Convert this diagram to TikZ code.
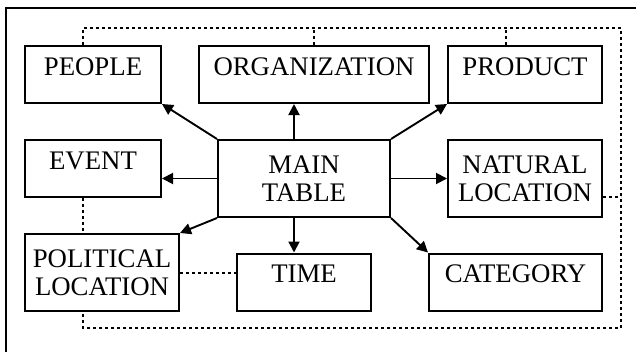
\documentclass[tikz,border=0pt]{standalone}
\usepackage{fontspec}
\setmainfont{Liberation Serif}
\usetikzlibrary{arrows.meta,calc}
\newcommand{\boxfont}{\fontsize{26.8pt}{28pt}\selectfont}
\begin{document}
\begin{tikzpicture}[x=1pt,y=-1pt,
  box/.style={draw, line width=2pt, inner sep=0pt, font=\boxfont},
  onebox/.style={box, text height=29pt, text depth=28pt},
  twobox/.style={box, align=center, minimum height=77pt},
  link/.style={line width=1.9pt, -{Triangle[length=11pt,width=11pt]}},
  dotline/.style={line width=2pt, dash pattern=on 2.6pt off 3.4pt},
]
\useasboundingbox (0,0) rectangle (636,351);
% outer frame
\draw[line width=2pt] (6,352) -- (6,8) -- (637,8);

% tables
\node[onebox, minimum width=136pt] (people) at (93,74.5) {PEOPLE};
\node[onebox, minimum width=230pt] (org) at (314,74.5) {ORGANIZATION};
\node[onebox, minimum width=154pt] (product) at (525,74.5) {PRODUCT};
\node[onebox, minimum width=136pt] (event) at (93,168.5) {EVENT};
\node[twobox, minimum width=172pt] (main) at (304,178.5) {MAIN\\TABLE};
\node[twobox, minimum width=154pt] (natural) at (525,178.5) {NATURAL\\LOCATION};
\node[twobox, minimum width=154pt] (political) at (102,272.5) {POLITICAL\\LOCATION};
\node[onebox, minimum width=134pt] (time) at (304,282) {TIME};
\node[onebox, minimum width=173pt] (category) at (515.5,282) {CATEGORY};

% links from the main table
\draw[link] (main.north west) -- (people.south east);
\draw[link] ([xshift=-10pt]main.north) -- ([xshift=-10pt]main.north |- org.south);
\draw[link] (main.north east) -- (product.south west);
\draw[link] (main.west) -- (main.west -| event.east);
\draw[link] (main.east) -- (main.east -| natural.west);
\draw[link] (main.south west) -- (political.north east);
\draw[link] ([xshift=-10pt]main.south) -- ([xshift=-10pt]main.south |- time.north);
\draw[link] (main.south east) -- (category.north west);

% dotted relations
\coordinate (nw) at (83,28);
\coordinate (se) at (621,328);
\draw[dotline] ([xshift=-10pt]people.north) -- ([xshift=-10pt]people.north |- nw)
  -| (se) -| ([xshift=-19pt]political.south);
\draw[dotline] (org.north) -- (org.north |- nw);
\draw[dotline] ([xshift=-19pt]product.north) -- ([xshift=-19pt]product.north |- nw);
\draw[dotline] ([yshift=-18pt]natural.east) -- ([yshift=-18pt]natural.east -| se);
\draw[dotline] ([xshift=-10pt]event.south) -- ([xshift=-19pt]political.north);
\draw[dotline] (political.east) -- (political.east -| time.west);
\end{tikzpicture}
\end{document}
